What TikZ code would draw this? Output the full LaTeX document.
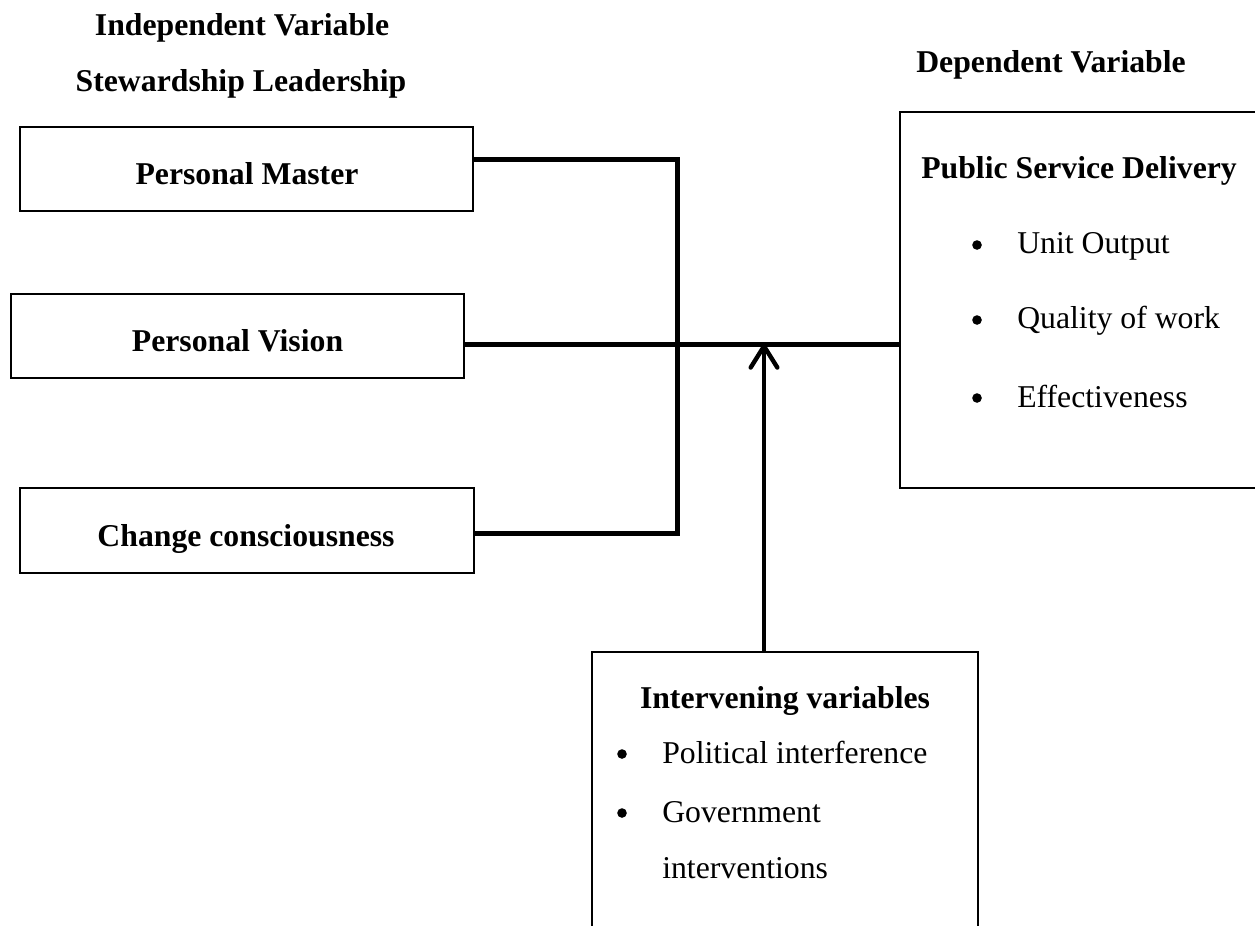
\documentclass[tikz,border=0pt]{standalone}
\usepackage{fontspec}
\setmainfont{Liberation Serif}
\usetikzlibrary{arrows.meta}
\begin{document}
\begin{tikzpicture}[x=0.75pt,y=-0.75pt,
  txt/.style={inner sep=0pt,anchor=base,font=\fontsize{23.8}{28}\selectfont},
  btxt/.style={txt,font=\fontsize{23.8}{28}\selectfont\bfseries},
  ltxt/.style={txt,anchor=base west},
  bul/.style={circle,fill=black,inner sep=0pt,minimum size=7.2pt},
  box/.style={draw,line width=1.5pt,inner sep=0pt,outer sep=0pt},
  conn/.style={line width=3.75pt,line join=miter},
  arr/.style={line width=3.3pt,-{Straight Barb[length=16pt,width=20pt,line cap=round,line join=round]}}]
\useasboundingbox (0,0) rectangle (1255,925);
\clip (0,0) rectangle (1255,925);
\fill[white] (0,0) rectangle (1255,925);

% headings
\node[btxt] (h1) at (242,35) {Independent Variable};
\node[btxt] (h2) at (241,91) {Stewardship Leadership};
\node[btxt] (h3) at (1051,72) {Dependent Variable};

% left boxes
\node[box,minimum width=339.75pt,minimum height=63pt] (pm) at (246.5,169) {};
\node[btxt] (pmt) at (247,184) {Personal Master};
\node[box,minimum width=339.75pt,minimum height=63pt] (pv) at (237.5,336) {};
\node[btxt] (pvt) at (237.5,351) {Personal Vision};
\node[box,minimum width=340.5pt,minimum height=63.75pt] (cc) at (247,530.5) {};
\node[btxt] (cct) at (246,546) {Change consciousness};

% dependent box
\node[box,line width=1.6pt,minimum width=271.5pt,minimum height=282pt] (psd) at (1081,300) {};
\node[btxt] (psdt) at (1079,178) {Public Service Delivery};
\node[bul] (b1) at (977,245) {};
\node[ltxt] (i1) at (1017,253) {Unit Output};
\node[bul] (b2) at (977,320) {};
\node[ltxt] (i2) at (1017,328) {Quality of work};
\node[bul] (b3) at (977,398) {};
\node[ltxt] (i3) at (1017,407) {Effectiveness};

% intervening box
\node[box,minimum width=289.5pt,minimum height=212.25pt] (iv) at (785,793.5) {};
\node[btxt] (ivt) at (785,708) {Intervening variables};
\node[bul] (c1) at (622,754) {};
\node[ltxt] (k1) at (662,763) {Political interference};
\node[bul] (c2) at (622,813) {};
\node[ltxt] (k2) at (662,822) {Government};
\node[ltxt] (k3) at (662,878) {interventions};

% connectors
\coordinate (j1) at (677,159);
\coordinate (j2) at (677,533);
\coordinate (pvy) at (0,344);
\coordinate (tip) at (764,344);
\draw[conn] (pm.east |- j1) -- (j1) -- (j2) -- (cc.east |- j2);
\draw[conn] (pv.east |- pvy) -- (psd.west |- pvy);
\draw[arr] (tip |- iv.north) -- (tip);
\end{tikzpicture}
\end{document}
